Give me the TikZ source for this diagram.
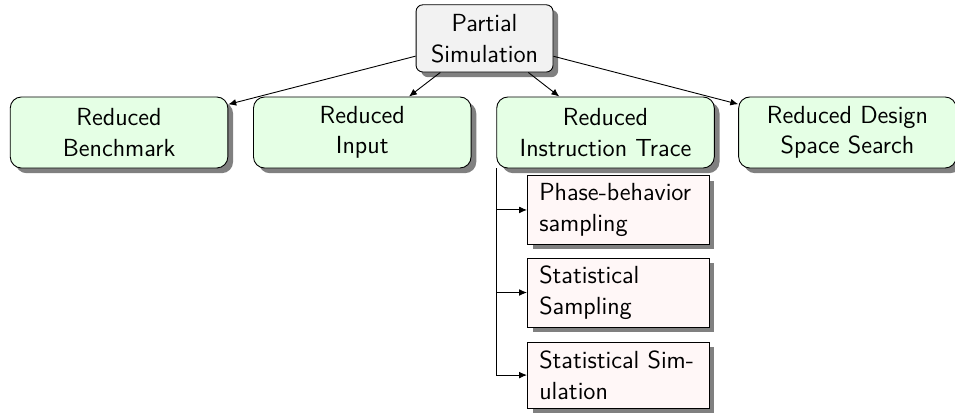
\documentclass[tikz,border=0pt]{standalone}
\usepackage{xcolor}
\usepackage{tikz}
\usetikzlibrary{arrows.meta, positioning, shadows}

\begin{document}
\begin{tikzpicture}[
  font=\fontsize{11pt}{13.6pt}\sffamily\selectfont,
  shade/.style={drop shadow={opacity=1, fill=black!50,
    shadow xshift=2.3pt, shadow yshift=-2.3pt}},
  rootbox/.style={draw, fill=gray!10, rounded corners=3pt, shade,
    minimum width=2.14cm, minimum height=1.05cm, text width=1.9cm, align=center},
  kind/.style={draw, fill=green!10, rounded corners=5pt, shade,
    minimum width=3.4cm, minimum height=1.11cm, text width=3.1cm, align=center},
  leaf/.style={draw, fill=red!3, shade, inner sep=3.5pt,
    minimum width=2.84cm, minimum height=1.03cm, text width=2.47cm},
  arr/.style={-{Latex[length=3.5pt, width=3pt]}}
]
\useasboundingbox (0,0) rectangle (14.92,-6.47);
\node[rootbox] (partial) at (7.57,-0.60) {Partial\\Simulation};
\node[kind] (bench)  at ( 1.86,-2.07) {Reduced\\Benchmark};
\node[kind] (input)  at ( 5.66,-2.07) {Reduced\\Input};
\node[kind] (trace)  at ( 9.46,-2.07) {Reduced\\Instruction Trace};
\node[kind] (design) at (13.24,-2.07) {Reduced Design\\Space Search};
\node[leaf] (phase) at (9.66,-3.28) {Phase-behavior sampling};
\node[leaf] (ssamp) at (9.66,-4.57) {Statistical Sampling};
\node[leaf] (ssim)  at (9.66,-5.86) {Statistical Simulation};
% root to kinds
\draw[arr] (partial) -- (bench);
\draw[arr] (partial) -- (input);
\draw[arr] (partial) -- (trace);
\draw[arr] (partial) -- (design);
% trace to leaves
\draw[arr] (trace.south west) |- (phase.west);
\draw[arr] (trace.south west) |- (ssamp.west);
\draw[arr] (trace.south west) |- (ssim.west);
\end{tikzpicture}
\end{document}
